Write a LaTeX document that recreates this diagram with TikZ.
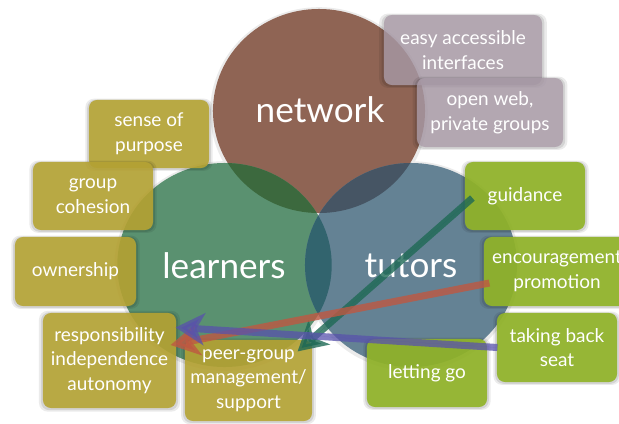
\documentclass[tikz,border=0pt]{standalone}
\usepackage{fontspec}
\setmainfont{Lato}
\usetikzlibrary{arrows.meta,shadows}

\definecolor{netbrown}{RGB}{143,100,84}
\definecolor{learngreen}{RGB}{90,145,112}
\definecolor{tutorblue}{RGB}{100,130,148}
\definecolor{lensNL}{RGB}{60,105,62}
\definecolor{lensNT}{RGB}{70,85,100}
\definecolor{lensLT}{RGB}{50,100,110}
\definecolor{boxolive}{RGB}{182,164,52}
\definecolor{boxlime}{RGB}{145,180,42}
\definecolor{boxmauve}{RGB}{172,157,170}
\definecolor{arrteal}{RGB}{30,105,85}
\definecolor{arrred}{RGB}{190,88,66}
\definecolor{arrpurple}{RGB}{88,82,172}

\newcommand{\networkarea}{(319,111) ellipse [x radius=2.65cm, y radius=2.55cm]}
\newcommand{\learnersarea}{(224.5,265) ellipse [x radius=2.68cm, y radius=2.55cm]}
\newcommand{\tutorsarea}{(411,265) ellipse [x radius=2.65cm, y radius=2.55cm]}

\begin{document}
\begin{tikzpicture}[x=0.025cm,y=-0.025cm,thick,
  box/.style={rounded corners=0.2cm,text=white,align=center,inner sep=0pt,
    text opacity=1,minimum width=3cm,minimum height=1.7cm,
    font=\fontsize{13.5}{17.5}\selectfont,
    general shadow={fill=black,opacity=0.08,shadow scale=1.06,shadow yshift=-0.5pt},
    general shadow={fill=black,opacity=0.1,shadow scale=1.03,shadow yshift=-0.5pt}},
  olive box/.style={box,fill=boxolive,fill opacity=0.9},
  lime box/.style={box,fill=boxlime,fill opacity=0.93},
  mauve box/.style={box,fill=boxmauve,fill opacity=0.8},
  circle label/.style={text=white,font=\fontsize{25}{30}\selectfont}]
\tikzstyle{link} = [line width=5pt,-{Stealth[length=0.72cm,width=0.8cm,inset=0.2cm]}]

\useasboundingbox (0,0) rectangle (619,423);

% circles
\fill[black!8] (319,112) ellipse [x radius=2.72cm, y radius=2.62cm];
\fill[black!8] (224.5,266) ellipse [x radius=2.75cm, y radius=2.62cm];
\fill[black!8] (411,266) ellipse [x radius=2.72cm, y radius=2.62cm];
\fill[netbrown] \networkarea;
\fill[learngreen] \learnersarea;
\fill[tutorblue] \tutorsarea;
\begin{scope}
  \clip \networkarea;
  \fill[lensNL] \learnersarea;
\end{scope}
\begin{scope}
  \clip \networkarea;
  \fill[lensNT] \tutorsarea;
\end{scope}
\begin{scope}
  \clip \learnersarea;
  \fill[lensLT] \tutorsarea;
\end{scope}

\node[circle label] at (320,110) (network) {network};
\node[circle label] at (224,266) (learners) {learners};
\node[circle label] at (411,266) (tutors) {tutors};

% network boxes
\node[mauve box,minimum width=3.95cm,minimum height=1.75cm] at (463,50) (easy) {easy accessible\\interfaces};
\node[mauve box,minimum width=3.65cm,minimum height=1.725cm] at (490,112.5) (openweb) {open web,\\private groups};

% learner boxes
\node[olive box] at (149,134) (purpose) {sense of\\purpose};
\node[olive box] at (93,196) (cohesion) {group\\cohesion};
\node[olive box,minimum width=3.025cm,minimum height=1.725cm] at (75.5,271.5) (ownership) {ownership};
\node[olive box,minimum width=3.325cm,minimum height=2.375cm] at (109.5,360.5) (responsibility) {responsibility\\independence\\autonomy};
\node[olive box,minimum width=3.175cm,minimum height=2.025cm] at (248.5,380.5) (peergroup) {peer-group\\management/\\support};

% tutor boxes
\node[lime box] at (525,196) (guidance) {guidance};
\node[lime box,minimum width=3.65cm,minimum height=1.725cm] at (557,271.5) (encourage) {encouragement\\promotion};
\node[lime box,minimum height=1.725cm] at (557,347.5) (takeback) {taking back\\seat};
\node[lime box] at (427,373) (lettinggo) {letting go};

% arrows
\draw[link,draw=arrteal,fill=arrteal,opacity=0.8] ([shift={(8,2)}]guidance.west) -- ([shift={(-15,12)}]peergroup.north east);
\draw[link,draw=arrred,fill=arrred,opacity=0.8] ([shift={(6,11.5)}]encourage.west) -- ([shift={(-6,-15.5)}]responsibility.east);
\draw[link,draw=arrpurple,fill=arrpurple,opacity=0.75] ([shift={(1,0)}]takeback.west) -- ([shift={(-1,15)}]responsibility.north east);

\end{tikzpicture}
\end{document}
